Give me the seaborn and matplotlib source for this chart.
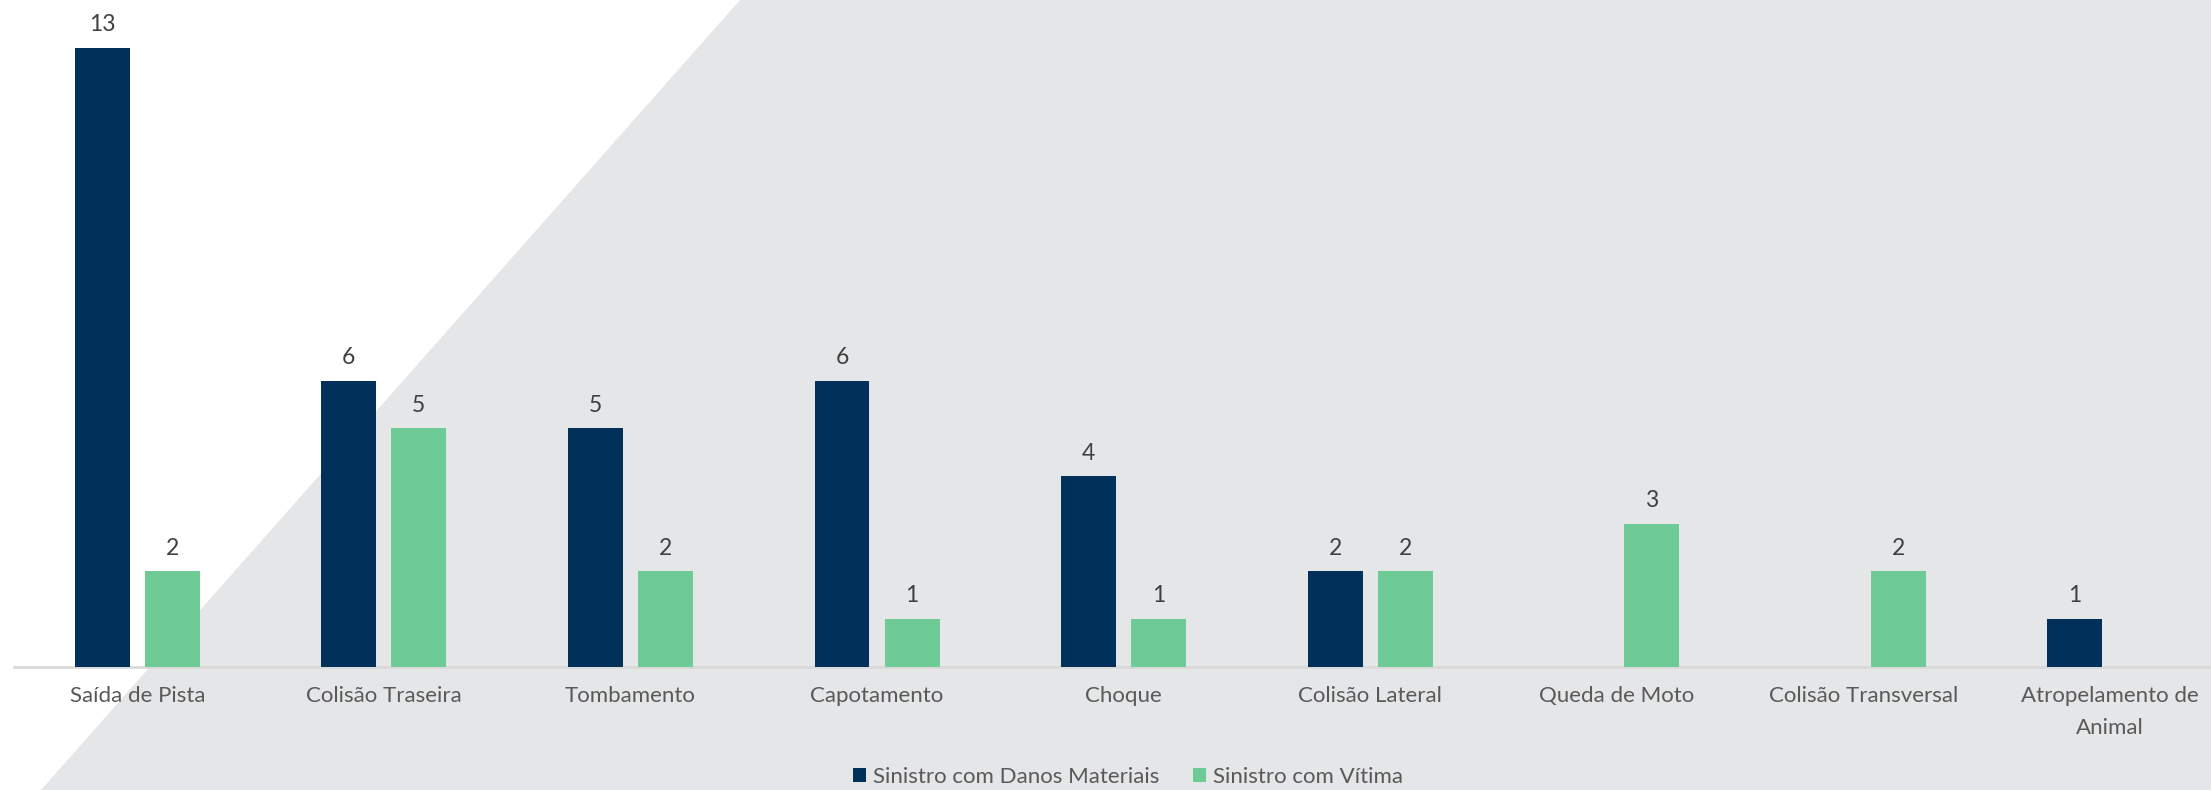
import matplotlib
matplotlib.use("Agg")
import matplotlib.pyplot as plt
from matplotlib.patches import Polygon
import seaborn as sns
import pandas as pd

categories = ["Saída de Pista", "Colisão Traseira", "Tombamento", "Capotamento", "Choque",
              "Colisão Lateral", "Queda de Moto", "Colisão Transversal", "Atropelamento de\nAnimal"]
danos_materiais = [13, 6, 5, 6, 4, 2, 0, 0, 1]
com_vitima = [2, 5, 2, 1, 1, 2, 3, 2, 0]
series_names = ["Sinistro com Danos Materiais", "Sinistro com Vítima"]
colors = ["#01305A", "#6FCB96"]

df = pd.DataFrame({
    "categoria": categories * 2,
    "valor": danos_materiais + com_vitima,
    "serie": [series_names[0]] * len(categories) + [series_names[1]] * len(categories),
})

sns.set_theme(style="white")
plt.rcParams["font.family"] = ["Lato", "DejaVu Sans"]

W, H = 2211, 790
fig = plt.figure(figsize=(W / 100, H / 100), dpi=100)
fig.patch.set_facecolor("white")

# grey diagonal background shape
pts = [(740, 0), (W, 0), (W, H), (41, H)]
poly = Polygon([(x / W, 1 - y / H) for x, y in pts], closed=True,
               transform=fig.transFigure, facecolor="#E5E6E8", edgecolor="none", zorder=-10)
fig.patches.append(poly)

base = 666.5
ax = fig.add_axes([14 / W, (H - base) / H, (W - 14) / W, base / H])
ax.set_facecolor("none")
ax.set_zorder(5)

sns.barplot(data=df, x="categoria", y="valor", hue="serie", palette=colors,
            width=0.568, gap=0.215, ax=ax, saturation=1, legend=True, zorder=3,
            linewidth=0, edgecolor="none")

ax.set_xlim(-0.5, 8.41)
ax.set_ylim(0, 14.0)

for cont in ax.containers:
    labels = [f"{int(v)}" if v > 0 else "" for v in cont.datavalues]
    ax.bar_label(cont, labels=labels, padding=9, fontsize=16.5, color="#404040")

ax.set_xlabel("")
ax.set_ylabel("")
ax.set_yticks([])
for s in ["left", "right", "top"]:
    ax.spines[s].set_visible(False)
ax.spines["bottom"].set_color("#D9D9D9")
ax.spines["bottom"].set_linewidth(2)
ax.tick_params(axis="x", length=0, pad=14, labelsize=16, labelcolor="#595959")
for lbl in ax.get_xticklabels():
    lbl.set_linespacing(1.75)

leg = ax.legend(loc="center", bbox_to_anchor=(1128 / W, 1 - 777 / H), bbox_transform=fig.transFigure,
                ncol=2, frameon=False, fontsize=16, handlelength=0.6, handleheight=0.6,
                handletextpad=0.3, columnspacing=1.5)
for t in leg.get_texts():
    t.set_color("#595959")

fig.savefig("out.png", dpi=100)
